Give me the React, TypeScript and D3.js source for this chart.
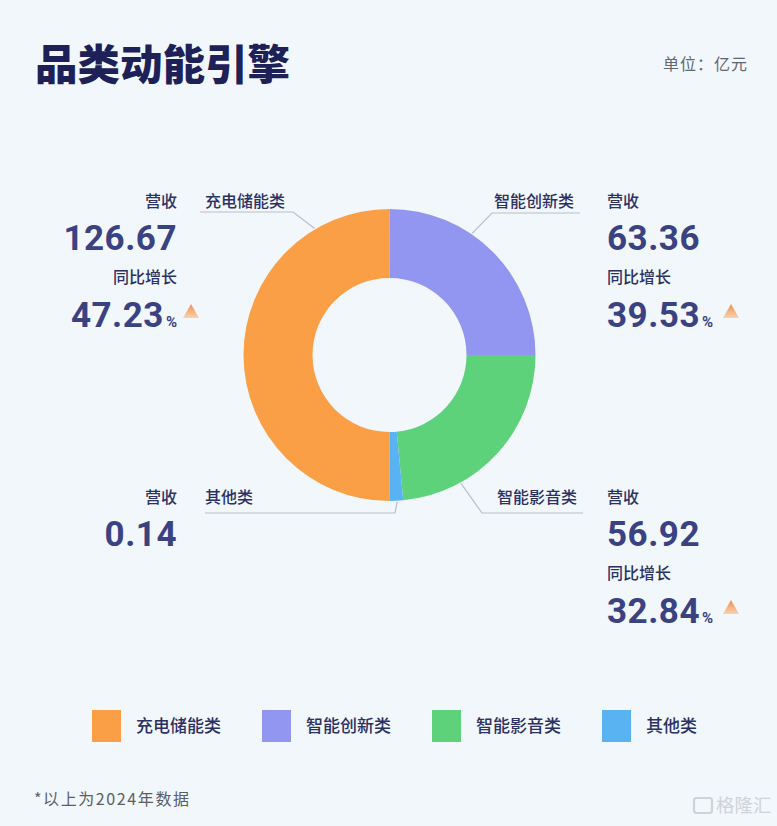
import React from 'react';
import * as d3 from 'd3';

// 数据（单位：亿元，2024年）
const categories = ['充电储能类', '智能创新类', '智能影音类', '其他类'];
const revenue = [126.67, 63.36, 56.92, 0.14];
const growth: (number | null)[] = [47.23, 39.53, 32.84, null];
// 环形图中各扇区在原图上的占比（图中“其他类”被放大显示）
const sliceShare = [50, 25, 23.5, 1.5];
const colors = ['#FA9F46', '#9396F0', '#5DD27B', '#59B3F3'];

const W = 777;
const H = 826;
const cx = 389.5;
const cy = 355;
const outerR = 146;
const innerR = 77;

// 标注块布局
const blocks = [
  { side: 'left', x: 177, y: 207, anchorFrac: 0.83, elbow: [293, 212], end: 200, labelX: 205 },
  { side: 'right', x: 607, y: 207, anchorFrac: 0.38, elbow: [492, 213], end: 580, labelX: 494 },
  { side: 'right', x: 607, y: 503, anchorFrac: 0.72, elbow: [482, 513], end: 583, labelX: 497 },
  { side: 'left', x: 177, y: 503, anchorFrac: 0.45, elbow: [395, 513], end: 205, labelX: 205 },
];

const cjk = '"Noto Sans CJK SC", "Noto Sans", sans-serif';
const num = 'Roboto, "DejaVu Sans", sans-serif';
const labelColor = '#2C3163';
const numColor = '#3B4282';

const App: React.FC = () => {
  const pie = d3
    .pie<number>()
    .sort(null)
    .value((d) => d)
    .startAngle(-Math.PI)
    .endAngle(Math.PI);
  const arcs = pie(sliceShare);
  const arc = d3.arc<d3.PieArcDatum<number>>().innerRadius(innerR).outerRadius(outerR);

  const legendX = d3.scaleLinear().domain([0, 1]).range([92, 262]);

  return (
    <svg
      width={W}
      height={H}
      viewBox={`0 0 ${W} ${H}`}
      style={{ position: 'absolute', left: 0, top: 0, display: 'block' }}
    >
      <defs>
        <linearGradient id="tri" x1="0" y1="0" x2="0" y2="1">
          <stop offset="0%" stopColor="#EE8F4E" />
          <stop offset="100%" stopColor="#F9D2AE" />
        </linearGradient>
      </defs>
      <rect width={W} height={H} fill="#F2F7FB" />

      {/* 标题 */}
      <text x={35} y={80} fontFamily={cjk} fontWeight={900} fontSize={42.5} fill="#1E2158">
        品类动能引擎
      </text>
      <text x={748} y={70} textAnchor="end" fontFamily={cjk} fontSize={16} fill="#62666F" letterSpacing={1}>
        单位：亿元
      </text>

      {/* 环形图 */}
      <g transform={`translate(${cx},${cy})`}>
        {arcs.map((a, i) => (
          <path key={i} d={arc(a) || ''} fill={colors[i]} />
        ))}
      </g>

      {/* 引导线与标注 */}
      {blocks.map((b, i) => {
        const a = arcs[i];
        const ang = a.startAngle + (a.endAngle - a.startAngle) * b.anchorFrac;
        const r = outerR + 1;
        const ax = cx + Math.sin(ang) * r;
        const ay = cy - Math.cos(ang) * r;
        const path = d3.path();
        path.moveTo(ax, ay);
        path.lineTo(b.elbow[0], b.elbow[1]);
        path.lineTo(b.end, b.elbow[1]);
        const anchor = b.side === 'left' ? 'end' : 'start';
        const g = growth[i];
        return (
          <g key={i}>
            <path d={path.toString()} fill="none" stroke="#B9BDC9" strokeWidth={1.2} />
            <text x={b.labelX} y={b.y} fontFamily={cjk} fontWeight={500} fontSize={16} fill={labelColor}>
              {categories[i]}
            </text>
            <text x={b.x} y={b.y} textAnchor={anchor} fontFamily={cjk} fontWeight={500} fontSize={16} fill={labelColor}>
              营收
            </text>
            <text x={b.x} y={b.y + 43} textAnchor={anchor} fontFamily={num} fontWeight={700} fontSize={35} fill={numColor} letterSpacing={0.5}>
              {revenue[i].toFixed(2)}
            </text>
            {g !== null && (
              <>
                <text x={b.x} y={b.y + 76} textAnchor={anchor} fontFamily={cjk} fontWeight={500} fontSize={16} fill={labelColor}>
                  同比增长
                </text>
                <text
                  x={b.x}
                  y={b.y + 120}
                  textAnchor={anchor}
                  fontFamily={num}
                  fontWeight={700}
                  fontSize={35}
                  fill={numColor}
                  letterSpacing={0.5}
                >
                  {g.toFixed(2)}
                  <tspan fontSize={15} dx={2} letterSpacing={0}>%</tspan>
                </text>
                {(() => {
                  const tx = b.side === 'left' ? b.x + 6 : b.x + 116;
                  const ty = b.y + 97;
                  return (
                    <path
                      d={`M${tx + 8},${ty} L${tx + 16},${ty + 14} L${tx},${ty + 14} Z`}
                      fill="url(#tri)"
                    />
                  );
                })()}
              </>
            )}
          </g>
        );
      })}

      {/* 图例 */}
      {categories.map((c, i) => (
        <g key={c} transform={`translate(${legendX(i)},710)`}>
          <rect width={29} height={32} fill={colors[i]} />
          <text x={44} y={22} fontFamily={cjk} fontWeight={500} fontSize={17} fill={labelColor}>
            {c}
          </text>
        </g>
      ))}

      {/* 脚注 */}
      <text x={34} y={805} fontFamily={cjk} fontSize={16} fill="#5A5E69" letterSpacing={1.6}>
        *以上为2024年数据
      </text>
      <g opacity={0.75}>
        <rect x={694} y={798} width={18} height={15} rx={2.5} fill="none" stroke="#C3C7CE" strokeWidth={2.2} />
        <text x={716} y={812} fontFamily={cjk} fontSize={18.5} fill="#C3C7CE">
          格隆汇
        </text>
      </g>
    </svg>
  );
};

export default App;
